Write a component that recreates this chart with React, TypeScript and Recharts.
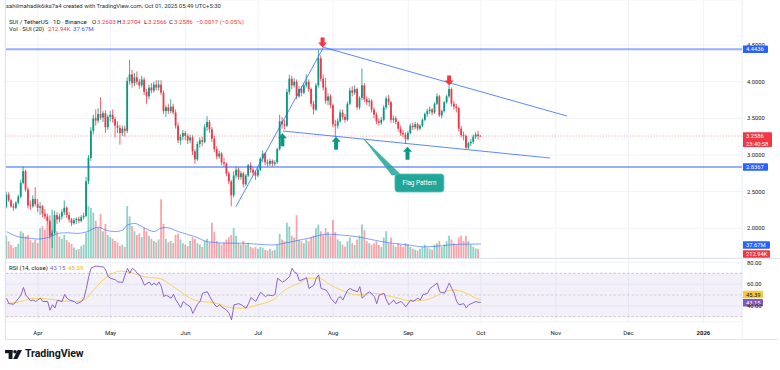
import React from 'react';
import { ComposedChart, Bar, Line, XAxis, YAxis, CartesianGrid, ReferenceLine, ReferenceDot, ReferenceArea, Cell } from 'recharts';

// colours (TradingView light theme)
const GREEN = '#089981';
const RED = '#f23645';
const BLUE = '#2962ff';
const PURPLE = '#7e57c2';
const YELLOW = '#f7cf4e';
const TEAL = '#22a69a';
const TEXT = '#131722';
const GRID = '#f0f3fa';
const FONT = 'Roboto, "Noto Sans", sans-serif';

// day index 0 = Mar 19 2025, 196 = Oct 01 2025
const X_DOMAIN = [-0.62, 303.93];
const PRICE_DOMAIN = [1.5948, 5.1146];
const VOL_DOMAIN = [0, 694];
const RSI_DOMAIN = [25.1, 84.1];

const monthTicks = [13, 43, 74, 104, 135, 166, 196, 227, 257, 288];
const monthLabels = ['Apr', 'May', 'Jun', 'Jul', 'Aug', 'Sep', 'Oct', 'Nov', 'Dec', '2026'];
const priceTicks = [2, 2.5, 3, 3.5, 4, 4.5];
const rsiTicks = [40, 60, 80];

// [open, high, low, close]
const candles = [
  [2.29, 2.50, 2.27, 2.46], [2.46, 2.49, 2.36, 2.38], [2.38, 2.40, 2.28, 2.30], [2.30, 2.34, 2.24, 2.28], [2.28, 2.37, 2.26, 2.35],
  [2.35, 2.46, 2.33, 2.43], [2.43, 2.66, 2.41, 2.62], [2.62, 2.84, 2.60, 2.78], [2.78, 2.80, 2.50, 2.53], [2.53, 2.56, 2.27, 2.31],
  [2.31, 2.38, 2.25, 2.30], [2.30, 2.45, 2.28, 2.40], [2.40, 2.56, 2.30, 2.33], [2.33, 2.40, 2.22, 2.28], [2.28, 2.36, 2.18, 2.30],
  [2.30, 2.32, 2.15, 2.20], [2.20, 2.26, 2.12, 2.16], [2.16, 2.20, 2.05, 2.10], [2.10, 2.12, 1.86, 1.90], [1.90, 1.98, 1.73, 1.94],
  [1.94, 2.24, 1.92, 2.18], [2.18, 2.22, 2.06, 2.12], [2.12, 2.20, 2.08, 2.16], [2.16, 2.26, 2.12, 2.22], [2.22, 2.38, 2.18, 2.28],
  [2.28, 2.30, 2.14, 2.18], [2.18, 2.22, 2.08, 2.12], [2.12, 2.14, 2.03, 2.07], [2.07, 2.14, 2.05, 2.11], [2.11, 2.15, 2.06, 2.13],
  [2.13, 2.16, 2.07, 2.10], [2.10, 2.18, 2.08, 2.15], [2.15, 2.21, 2.12, 2.17], [2.17, 2.70, 2.15, 2.64], [2.64, 3.00, 2.60, 2.96],
  [2.96, 3.38, 2.92, 3.33], [3.33, 3.55, 3.28, 3.50], [3.50, 3.62, 3.40, 3.47], [3.47, 3.64, 3.44, 3.56], [3.56, 3.79, 3.48, 3.51],
  [3.51, 3.60, 3.45, 3.57], [3.57, 3.61, 3.30, 3.38], [3.38, 3.55, 3.34, 3.52], [3.52, 3.60, 3.46, 3.55], [3.55, 3.62, 3.44, 3.49],
  [3.49, 3.52, 3.24, 3.40], [3.40, 3.46, 3.30, 3.37], [3.37, 3.41, 3.14, 3.30], [3.30, 3.40, 3.26, 3.36], [3.36, 3.40, 3.25, 3.33],
  [3.33, 4.06, 3.30, 4.01], [4.01, 4.30, 3.96, 4.10], [4.10, 4.16, 3.92, 3.98], [3.98, 4.12, 3.94, 4.06], [4.06, 4.14, 3.96, 4.00],
  [4.00, 4.04, 3.90, 3.95], [3.95, 4.08, 3.92, 4.03], [4.03, 4.06, 3.82, 3.86], [3.86, 3.90, 3.70, 3.80], [3.80, 3.96, 3.76, 3.92],
  [3.92, 3.98, 3.84, 3.88], [3.88, 4.00, 3.85, 3.96], [3.96, 4.02, 3.88, 3.92], [3.92, 4.02, 3.88, 3.96], [3.96, 4.02, 3.82, 3.85],
  [3.85, 3.88, 3.56, 3.60], [3.60, 3.68, 3.52, 3.65], [3.65, 3.70, 3.56, 3.60], [3.60, 3.76, 3.57, 3.66], [3.66, 3.70, 3.55, 3.58],
  [3.58, 3.62, 3.36, 3.40], [3.40, 3.44, 3.16, 3.20], [3.20, 3.28, 3.14, 3.25], [3.25, 3.34, 3.20, 3.30], [3.30, 3.33, 3.20, 3.26],
  [3.26, 3.29, 3.15, 3.20], [3.20, 3.28, 3.16, 3.24], [3.24, 3.27, 3.00, 3.05], [3.05, 3.08, 2.88, 2.94], [2.94, 3.18, 2.92, 3.15],
  [3.15, 3.24, 3.10, 3.20], [3.20, 3.25, 3.12, 3.18], [3.18, 3.42, 3.16, 3.38], [3.38, 3.53, 3.33, 3.45], [3.45, 3.48, 3.30, 3.35],
  [3.35, 3.38, 3.18, 3.22], [3.22, 3.26, 3.04, 3.08], [3.08, 3.12, 2.94, 2.98], [2.98, 3.06, 2.95, 3.02], [3.02, 3.04, 2.86, 2.90],
  [2.90, 2.96, 2.84, 2.88], [2.88, 2.90, 2.71, 2.75], [2.75, 2.78, 2.60, 2.64], [2.64, 2.66, 2.30, 2.45], [2.45, 2.78, 2.42, 2.72],
  [2.72, 2.84, 2.68, 2.80], [2.80, 2.83, 2.66, 2.70], [2.70, 2.78, 2.66, 2.75], [2.75, 2.77, 2.56, 2.60], [2.60, 2.74, 2.58, 2.72],
  [2.72, 2.88, 2.70, 2.86], [2.86, 2.90, 2.76, 2.80], [2.80, 2.84, 2.72, 2.76], [2.76, 2.79, 2.66, 2.72], [2.72, 2.83, 2.70, 2.80],
  [2.80, 2.97, 2.78, 2.95], [2.95, 3.06, 2.90, 3.02], [3.02, 3.04, 2.86, 2.90], [2.90, 2.94, 2.84, 2.88], [2.88, 2.95, 2.85, 2.92],
  [2.92, 2.94, 2.84, 2.88], [2.88, 2.93, 2.85, 2.90], [2.90, 3.10, 2.88, 3.08], [3.08, 3.55, 3.06, 3.46], [3.46, 3.52, 3.36, 3.42],
  [3.42, 3.48, 3.35, 3.40], [3.40, 3.90, 3.38, 3.86], [3.86, 4.09, 3.82, 4.04], [4.04, 4.08, 3.90, 3.95], [3.95, 4.05, 3.92, 4.00],
  [4.00, 4.03, 3.76, 3.80], [3.80, 3.94, 3.78, 3.90], [3.90, 3.94, 3.80, 3.85], [3.85, 3.98, 3.83, 3.95], [3.95, 4.10, 3.92, 4.00],
  [4.00, 4.03, 3.86, 3.90], [3.90, 3.92, 3.66, 3.70], [3.70, 3.74, 3.55, 3.62], [3.62, 3.98, 3.60, 3.95], [3.95, 4.44, 3.92, 4.32],
  [4.32, 4.36, 4.00, 4.04], [4.04, 4.10, 3.88, 3.92], [3.92, 4.05, 3.70, 3.74], [3.74, 3.84, 3.68, 3.80], [3.80, 3.83, 3.64, 3.68],
  [3.68, 3.70, 3.38, 3.42], [3.42, 3.48, 3.24, 3.40], [3.40, 3.50, 3.36, 3.46], [3.46, 3.62, 3.44, 3.58], [3.58, 3.62, 3.48, 3.52],
  [3.52, 3.56, 3.44, 3.48], [3.48, 3.73, 3.46, 3.70], [3.70, 3.92, 3.68, 3.88], [3.88, 3.94, 3.80, 3.85], [3.85, 3.95, 3.82, 3.90],
  [3.90, 3.92, 3.62, 3.65], [3.65, 3.80, 3.62, 3.78], [3.78, 4.18, 3.75, 3.95], [3.95, 3.98, 3.72, 3.76], [3.76, 3.80, 3.68, 3.72],
  [3.72, 3.78, 3.66, 3.74], [3.74, 3.76, 3.58, 3.62], [3.62, 3.65, 3.50, 3.55], [3.55, 3.58, 3.42, 3.46], [3.46, 3.50, 3.40, 3.44],
  [3.44, 3.52, 3.41, 3.48], [3.48, 3.68, 3.46, 3.65], [3.65, 3.80, 3.62, 3.77], [3.77, 3.82, 3.68, 3.72], [3.72, 3.74, 3.44, 3.48],
  [3.48, 3.54, 3.44, 3.50], [3.50, 3.53, 3.42, 3.45], [3.45, 3.47, 3.32, 3.36], [3.36, 3.40, 3.26, 3.30], [3.30, 3.34, 3.24, 3.28],
  [3.28, 3.31, 3.15, 3.22], [3.22, 3.33, 3.20, 3.30], [3.30, 3.43, 3.28, 3.40], [3.40, 3.44, 3.34, 3.38], [3.38, 3.45, 3.35, 3.42],
  [3.42, 3.44, 3.33, 3.36], [3.36, 3.42, 3.34, 3.40], [3.40, 3.50, 3.38, 3.48], [3.48, 3.58, 3.46, 3.56], [3.56, 3.63, 3.52, 3.60],
  [3.60, 3.66, 3.56, 3.62], [3.62, 3.64, 3.54, 3.58], [3.58, 3.72, 3.56, 3.70], [3.70, 3.84, 3.68, 3.80], [3.80, 3.82, 3.52, 3.54],
  [3.54, 3.62, 3.50, 3.60], [3.60, 3.74, 3.58, 3.72], [3.72, 3.82, 3.70, 3.80], [3.80, 3.95, 3.78, 3.90], [3.90, 3.92, 3.66, 3.70],
  [3.70, 3.74, 3.62, 3.66], [3.66, 3.70, 3.58, 3.64], [3.64, 3.66, 3.32, 3.36], [3.36, 3.40, 3.24, 3.27], [3.27, 3.32, 3.20, 3.26],
  [3.26, 3.28, 3.07, 3.10], [3.10, 3.18, 3.08, 3.16], [3.16, 3.22, 3.12, 3.18], [3.18, 3.28, 3.15, 3.25], [3.25, 3.31, 3.22, 3.28],
  [3.28, 3.33, 3.21, 3.26], [3.2603, 3.2704, 3.2566, 3.2586],
];

// volume, millions of SUI
const volumes = [
  60, 45, 35, 28, 30, 38, 72, 68, 58, 62,
  48, 42, 50, 40, 80, 85, 75, 90, 115, 130,
  105, 72, 58, 52, 62, 48, 42, 38, 28, 22,
  24, 32, 36, 68, 140, 135, 122, 100, 82, 118,
  72, 92, 62, 56, 52, 46, 42, 32, 36, 30,
  140, 112, 86, 72, 62, 66, 56, 82, 72, 60,
  52, 46, 42, 50, 158, 92, 52, 42, 46, 40,
  62, 66, 50, 40, 36, 32, 46, 56, 52, 40,
  36, 30, 46, 52, 42, 95, 70, 46, 40, 36,
  42, 50, 56, 62, 80, 60, 40, 36, 46, 36,
  40, 30, 26, 30, 25, 30, 28, 22, 20, 25,
  20, 22, 36, 65, 50, 45, 95, 85, 60, 55,
  115, 50, 45, 40, 50, 45, 56, 60, 80, 90,
  72, 62, 80, 70, 60, 102, 70, 50, 45, 36,
  30, 45, 55, 40, 35, 50, 60, 90, 75, 45,
  40, 36, 40, 45, 35, 30, 55, 72, 40, 55,
  36, 30, 40, 35, 30, 40, 36, 30, 25, 22,
  20, 25, 30, 36, 28, 25, 22, 36, 40, 46,
  30, 36, 45, 60, 50, 40, 36, 55, 60, 46,
  60, 46, 36, 30, 26, 25, 0.21,
];

// [day, value]
const volMaPts = [
  [0, 71], [5, 57], [10, 53], [13, 51], [18, 57], [22, 67], [25, 68], [29, 66], [33, 70], [38, 83],
  [41, 75], [45, 71], [48, 75], [50, 89], [53, 93], [57, 81], [61, 71], [64, 81], [66, 82], [71, 71],
  [78, 57], [83, 44], [90, 40], [97, 40], [104, 37], [110, 35], [115, 40], [121, 48], [126, 55], [132, 64],
  [138, 62], [145, 57], [152, 48], [159, 40], [166, 35], [173, 30], [180, 33], [187, 37], [196, 37.67],
];

const rsiPts = [
  [0, 47], [1, 42], [3, 41.5], [5, 47], [6, 50], [7, 57], [8, 50], [10, 44.5], [11, 45.5], [12, 44],
  [14, 47], [15, 44], [17, 44], [18, 36], [19, 41], [20, 38], [21, 45], [23, 44], [24, 50.6], [25, 47],
  [26, 45.4], [28, 44], [29, 42], [31, 44], [32, 47], [33, 56], [34, 67], [35, 75], [37, 76.7], [39, 76],
  [40, 76], [41, 73], [42, 67], [43, 65.4], [45, 64], [46, 62], [48, 61.7], [49, 68.5], [50, 74.6], [51, 70],
  [52, 74.6], [53, 73], [54, 70], [55, 68.5], [56, 64], [57, 59], [59, 62], [60, 59], [61, 61], [62, 59],
  [63, 62], [64, 57.7], [65, 48.5], [66, 50], [68, 47], [69, 50.6], [70, 45.4], [72, 38.4], [73, 44], [74, 42],
  [76, 39], [77, 33], [79, 42], [80, 44], [81, 51.6], [83, 53], [84, 48.5], [86, 41], [87, 39], [88, 41],
  [89, 39], [91, 36], [92, 33], [93, 27], [94, 41], [96, 42], [97, 41], [99, 37.8], [100, 42], [101, 47.6],
  [103, 44], [104, 48.5], [105, 52.5], [107, 48.5], [108, 50], [110, 49.4], [111, 50.6], [112, 65.4], [114, 62], [115, 63],
  [117, 67], [118, 74.6], [119, 71], [120, 70], [121, 63], [123, 64.8], [124, 66], [125, 56], [127, 59], [128, 65.4],
  [129, 68.5], [130, 56], [132, 54.6], [133, 51.6], [134, 47], [136, 42], [137, 47], [138, 48.5], [139, 45.4], [141, 54.6],
  [142, 56], [143, 54.6], [145, 53], [146, 57.7], [147, 47], [149, 51.6], [150, 53], [152, 48.5], [153, 42], [154, 50],
  [156, 51.6], [157, 45.4], [158, 41], [160, 45.4], [161, 42], [163, 44], [164, 42], [165, 39], [167, 45.4], [168, 44],
  [170, 47], [171, 45.4], [172, 50], [174, 51.6], [175, 56], [176, 57.7], [178, 61], [179, 53], [181, 51.6], [183, 61],
  [184, 56], [185, 51.6], [186, 44], [187, 41], [189, 42], [190, 38], [191, 41], [192, 42], [194, 44], [195, 43.3],
  [196, 43.15],
];

const rsiMaPts = [
  [0, 42], [6, 44], [11, 47], [17, 46.4], [22, 45], [28, 44], [32, 45.4], [36, 54.6], [40, 64], [44, 70],
  [47, 72], [51, 71], [55, 68], [59, 66], [63, 65.4], [68, 59], [72, 53], [76, 47], [80, 44], [84, 43.3],
  [88, 41.5], [92, 38.4], [97, 37.8], [100, 38.5], [104, 41], [110, 45.4], [115, 54.6], [121, 61], [125, 65.4], [129, 65.4],
  [134, 59], [140, 53], [145, 50], [151, 51.6], [156, 50], [162, 47], [167, 44.5], [173, 45.4], [177, 48.5], [181, 53],
  [185, 54.6], [190, 51.6], [194, 47], [196, 45.39],
];

// chart rows
const rows = candles.map(([o, h, l, c], d) => ({ d, o, h, l, c, range: [l, h], vol: volumes[d], volMa: null as number | null }));
volMaPts.forEach(([d, v]) => { rows[d].volMa = v; });

const rsiRows = candles.map((_, d) => ({ d, rsi: null as number | null, rsiMa: null as number | null }));
rsiPts.forEach(([d, v]) => { rsiRows[d].rsi = v; });
rsiMaPts.forEach(([d, v]) => { rsiRows[d].rsiMa = v; });

const Candle = (props: any) => {
  const { x, y, width, height, payload } = props;
  if (!payload) return null;
  const { o, h, l, c } = payload;
  const top = Math.min(y, y + height);
  const span = Math.abs(height);
  const toY = (v: number) => (h === l ? top : top + ((h - v) / (h - l)) * span);
  const color = c >= o ? GREEN : RED;
  const bodyTop = toY(Math.max(o, c));
  const bodyBot = toY(Math.min(o, c));
  const cx = x + width / 2;
  return (
    <g>
      <line x1={cx} x2={cx} y1={top} y2={top + span} stroke={color} strokeWidth={0.8} />
      <rect x={x} y={bodyTop} width={width} height={Math.max(bodyBot - bodyTop, 0.7)} fill={color} />
    </g>
  );
};

const Tag = ({ viewBox, lines, bg, fg = '#fff', dy = 0, w = 26 }: any) => {
  if (!viewBox) return null;
  const x = viewBox.x + viewBox.width;
  const y = viewBox.y + dy;
  const h = lines.length > 1 ? 14.6 : 7.4;
  return (
    <g>
      <rect x={x} y={y - 3.7} width={w} height={h} rx={1} fill={bg} />
      {lines.map((t: string, i: number) => (
        <text key={i} x={x + 4} y={y + 2.1 + i * 7.6} fontSize={5.8} fill={fg} fontFamily={FONT}>{t}</text>
      ))}
    </g>
  );
};

const ArrowDown = ({ cx, cy }: any) => (
  <g fill={RED}>
    <rect x={cx - 2} y={cy - 10} width={4} height={5.5} />
    <polygon points={`${cx - 4.5},${cy - 5} ${cx + 4.5},${cy - 5} ${cx},${cy}`} />
  </g>
);

const ArrowUp = ({ cx, cy }: any) => (
  <g fill={GREEN}>
    <polygon points={`${cx - 4.5},${cy + 5} ${cx + 4.5},${cy + 5} ${cx},${cy}`} />
    <rect x={cx - 2} y={cy + 4.5} width={4} height={8.5} />
  </g>
);

const Callout = ({ cx, cy }: any) => (
  <g>
    <polygon points={`${cx},${cy} ${cx + 28},${cy + 36} ${cx + 37},${cy + 36}`} fill={TEAL} fillOpacity={0.85} stroke={TEAL} strokeWidth={0.6} />
    <rect x={cx + 31} y={cy + 35} width={49} height={18} rx={3} fill={TEAL} stroke="#5cc4b8" strokeWidth={0.8} />
    <text x={cx + 55.5} y={cy + 46.2} textAnchor="middle" fontSize={6.3} fill="#fff" fontFamily={FONT}>Flag Pattern</text>
  </g>
);

const MonthTick = ({ x, y, payload }: any) => {
  const label = monthLabels[monthTicks.indexOf(payload.value)];
  return (
    <text x={x} y={y + 10.5} textAnchor="middle" fontSize={6} fontWeight={label === '2026' ? 700 : 400} fill={TEXT} fontFamily={FONT}>
      {label}
    </text>
  );
};

const axisTick = { fontSize: 5.8, fill: TEXT, fontFamily: FONT };

const Logo = () => (
  <svg width={17} height={9} style={{ position: 'absolute', left: 5, top: 350 }}>
    <rect x={0} y={0} width={7.5} height={3.2} fill={TEXT} />
    <rect x={3.6} y={0} width={3.9} height={9} fill={TEXT} />
    <circle cx={10} cy={1.8} r={1.8} fill={TEXT} />
    <polygon points="12.6,0 17,0 12.4,9 8.2,9" fill={TEXT} />
  </svg>
);

const txt = (left: number, top: number, text: string, color = TEXT, size = 6, extra: any = {}) => (
  <span style={{ position: 'absolute', left, top, fontSize: size, lineHeight: 1, color, whiteSpace: 'nowrap', ...extra }}>{text}</span>
);

export default function App() {
  const margin = { top: 0, right: 0, bottom: 0, left: 5 };
  return (
    <div style={{ position: 'absolute', left: 0, top: 0, width: 780, height: 370, background: '#fff', fontFamily: FONT, overflow: 'hidden' }}>
      {/* volume + grid layer */}
      <div style={{ position: 'absolute', left: 0, top: 0 }}>
        <ComposedChart width={780} height={258} data={rows} margin={margin}>
          <CartesianGrid stroke={GRID} yAxisId="p" />
          <XAxis dataKey="d" type="number" domain={X_DOMAIN} ticks={monthTicks} hide allowDataOverflow />
          <YAxis yAxisId="p" orientation="right" width={38} domain={PRICE_DOMAIN} ticks={priceTicks} interval={0}
            allowDataOverflow axisLine={false} tickLine={false} tickSize={0} tickMargin={5} tick={axisTick}
            tickFormatter={(v: number) => v.toFixed(4)} />
          <YAxis yAxisId="v" hide domain={VOL_DOMAIN} allowDataOverflow />
          <Bar yAxisId="v" dataKey="vol" barSize={1.8} isAnimationActive={false}>
            {rows.map((r) => <Cell key={r.d} fill={r.c >= r.o ? GREEN : RED} fillOpacity={0.45} />)}
          </Bar>
          <Line yAxisId="v" dataKey="volMa" type="monotone" connectNulls stroke={BLUE} strokeOpacity={0.65} strokeWidth={0.9} dot={false} isAnimationActive={false} />
          <ReferenceLine yAxisId="v" y={37.67} stroke="none" label={<Tag lines={['37.67M']} bg={BLUE} dy={1} w={28} />} />
          <ReferenceLine yAxisId="v" y={37.67} stroke="none" label={<Tag lines={['212.94K']} bg={RED} dy={10} w={28} />} />
        </ComposedChart>
      </div>

      {/* candles + drawings layer */}
      <div style={{ position: 'absolute', left: 0, top: 0 }}>
        <ComposedChart width={780} height={258} data={rows} margin={margin}>
          <XAxis dataKey="d" type="number" domain={X_DOMAIN} hide allowDataOverflow />
          <YAxis yAxisId="p" orientation="right" width={38} domain={PRICE_DOMAIN} tick={false} axisLine={false} tickLine={false} allowDataOverflow />
          <ReferenceLine yAxisId="p" y={3.2586} stroke={RED} strokeOpacity={0.45} strokeWidth={0.8} strokeDasharray="1.5 1.5"
            label={<Tag lines={['3.2586', '23:40:58']} bg={RED} w={30} />} />
          <Bar yAxisId="p" dataKey="range" barSize={1.8} shape={<Candle />} isAnimationActive={false} />
          <ReferenceLine yAxisId="p" y={4.4436} stroke={BLUE} strokeOpacity={0.5} strokeWidth={2} label={<Tag lines={['4.4436']} bg={BLUE} />} />
          <ReferenceLine yAxisId="p" y={2.8367} stroke={BLUE} strokeOpacity={0.5} strokeWidth={2} label={<Tag lines={['2.8367']} bg={BLUE} />} />
          <ReferenceLine yAxisId="p" segment={[{ x: 94.8, y: 2.295 }, { x: 130.8, y: 4.457 }]} stroke={BLUE} strokeOpacity={0.85} strokeWidth={0.9} ifOverflow="visible" />
          <ReferenceLine yAxisId="p" segment={[{ x: 130.6, y: 4.473 }, { x: 231.6, y: 3.532 }]} stroke={BLUE} strokeOpacity={0.85} strokeWidth={0.9} ifOverflow="visible" />
          <ReferenceLine yAxisId="p" segment={[{ x: 114.3, y: 3.327 }, { x: 224.6, y: 2.959 }]} stroke={BLUE} strokeOpacity={0.85} strokeWidth={0.9} ifOverflow="visible" />
          <ReferenceDot yAxisId="p" x={130.6} y={4.467} r={4} shape={(p: any) => <ArrowDown cx={p.cx} cy={p.cy} />} />
          <ReferenceDot yAxisId="p" x={182.9} y={3.948} r={4} shape={(p: any) => <ArrowDown cx={p.cx} cy={p.cy} />} />
          <ReferenceDot yAxisId="p" x={114} y={3.296} r={4} shape={(p: any) => <ArrowUp cx={p.cx} cy={p.cy} />} />
          <ReferenceDot yAxisId="p" x={136.2} y={3.25} r={4} shape={(p: any) => <ArrowUp cx={p.cx} cy={p.cy} />} />
          <ReferenceDot yAxisId="p" x={165.7} y={3.113} r={4} shape={(p: any) => <ArrowUp cx={p.cx} cy={p.cy} />} />
          <ReferenceDot yAxisId="p" x={147.7} y={3.218} r={4} shape={(p: any) => <Callout cx={p.cx} cy={p.cy} />} />
        </ComposedChart>
      </div>

      {/* RSI pane + time axis */}
      <div style={{ position: 'absolute', left: 0, top: 258 }}>
        <ComposedChart width={780} height={80} data={rsiRows} margin={margin}>
          <CartesianGrid stroke={GRID} yAxisId="r" />
          <XAxis dataKey="d" type="number" domain={X_DOMAIN} ticks={monthTicks} interval={0} height={16} allowDataOverflow
            axisLine={false} tickLine={false} tickSize={0} tick={<MonthTick />} />
          <YAxis yAxisId="r" orientation="right" width={38} domain={RSI_DOMAIN} ticks={rsiTicks} interval={0} allowDataOverflow
            axisLine={false} tickLine={false} tickSize={0} tickMargin={5} tick={axisTick} tickFormatter={(v: number) => v.toFixed(2)} />
          <ReferenceArea yAxisId="r" y1={30} y2={70} fill={PURPLE} fillOpacity={0.09} stroke="none" />
          <ReferenceLine yAxisId="r" y={70} stroke="#9598a1" strokeOpacity={0.7} strokeWidth={0.7} strokeDasharray="2.5 2" />
          <ReferenceLine yAxisId="r" y={50} stroke="#9598a1" strokeOpacity={0.5} strokeWidth={0.7} strokeDasharray="2.5 2" />
          <ReferenceLine yAxisId="r" y={30} stroke="#9598a1" strokeOpacity={0.7} strokeWidth={0.7} strokeDasharray="2.5 2" />
          <Line yAxisId="r" dataKey="rsiMa" type="monotone" connectNulls stroke={YELLOW} strokeWidth={0.9} dot={false} isAnimationActive={false} />
          <Line yAxisId="r" dataKey="rsi" type="linear" connectNulls stroke={PURPLE} strokeWidth={0.9} dot={false} isAnimationActive={false} />
          <ReferenceLine yAxisId="r" y={45.39} stroke="none" label={<Tag lines={['45.39']} bg="#f9c740" fg={TEXT} dy={-5.5} w={21} />} />
          <ReferenceLine yAxisId="r" y={43.15} stroke="none" label={<Tag lines={['43.15']} bg={PURPLE} dy={0.4} w={21} />} />
        </ComposedChart>
      </div>

      {/* frame and pane separators */}
      <div style={{ position: 'absolute', left: 5, top: 0, width: 1, height: 339, background: '#e0e3eb' }} />
      <div style={{ position: 'absolute', left: 5, top: 257.5, width: 775, height: 1, background: '#e0e3eb' }} />
      <div style={{ position: 'absolute', left: 5, top: 339, width: 773, height: 1, background: '#e0e3eb' }} />
      <div style={{ position: 'absolute', left: 742, top: 0, width: 1, height: 339, background: '#f0f3fa' }} />

      {/* legends */}
      {txt(6, 3.7, 'sahilmahadik6iks7a4 created with TradingView.com, Oct 01, 2025 05:49 UTC+5:30', '#2a2e39', 5.9)}
      {txt(9, 18.7, 'SUI / TetherUS · 1D · Binance', TEXT, 6.1)}
      {txt(92, 18.7, 'O', TEXT, 6.1)}{txt(97, 18.7, '3.2603', RED, 6.1)}
      {txt(117, 18.7, 'H', TEXT, 6.1)}{txt(122, 18.7, '3.2704', RED, 6.1)}
      {txt(144, 18.7, 'L', TEXT, 6.1)}{txt(148, 18.7, '3.2566', RED, 6.1)}
      {txt(169, 18.7, 'C', TEXT, 6.1)}{txt(174, 18.7, '3.2586', RED, 6.1)}
      {txt(196, 18.7, '−0.0017 (−0.05%)', RED, 6.1)}
      {txt(9, 26.3, 'Vol · SUI (20)', TEXT, 6.1)}
      {txt(48, 26.3, '212.94K', RED, 6.1)}
      {txt(73, 26.3, '37.67M', BLUE, 6.1)}
      {txt(9, 264.7, 'RSI (14, close)', TEXT, 6.1)}
      {txt(50, 264.7, '43.15', PURPLE, 6.1)}
      {txt(68, 264.7, '45.39', '#e9b522', 6.1)}

      <Logo />
      {txt(25, 348.5, 'TradingView', TEXT, 10.6, { fontWeight: 700, letterSpacing: -0.1 })}
    </div>
  );
}
